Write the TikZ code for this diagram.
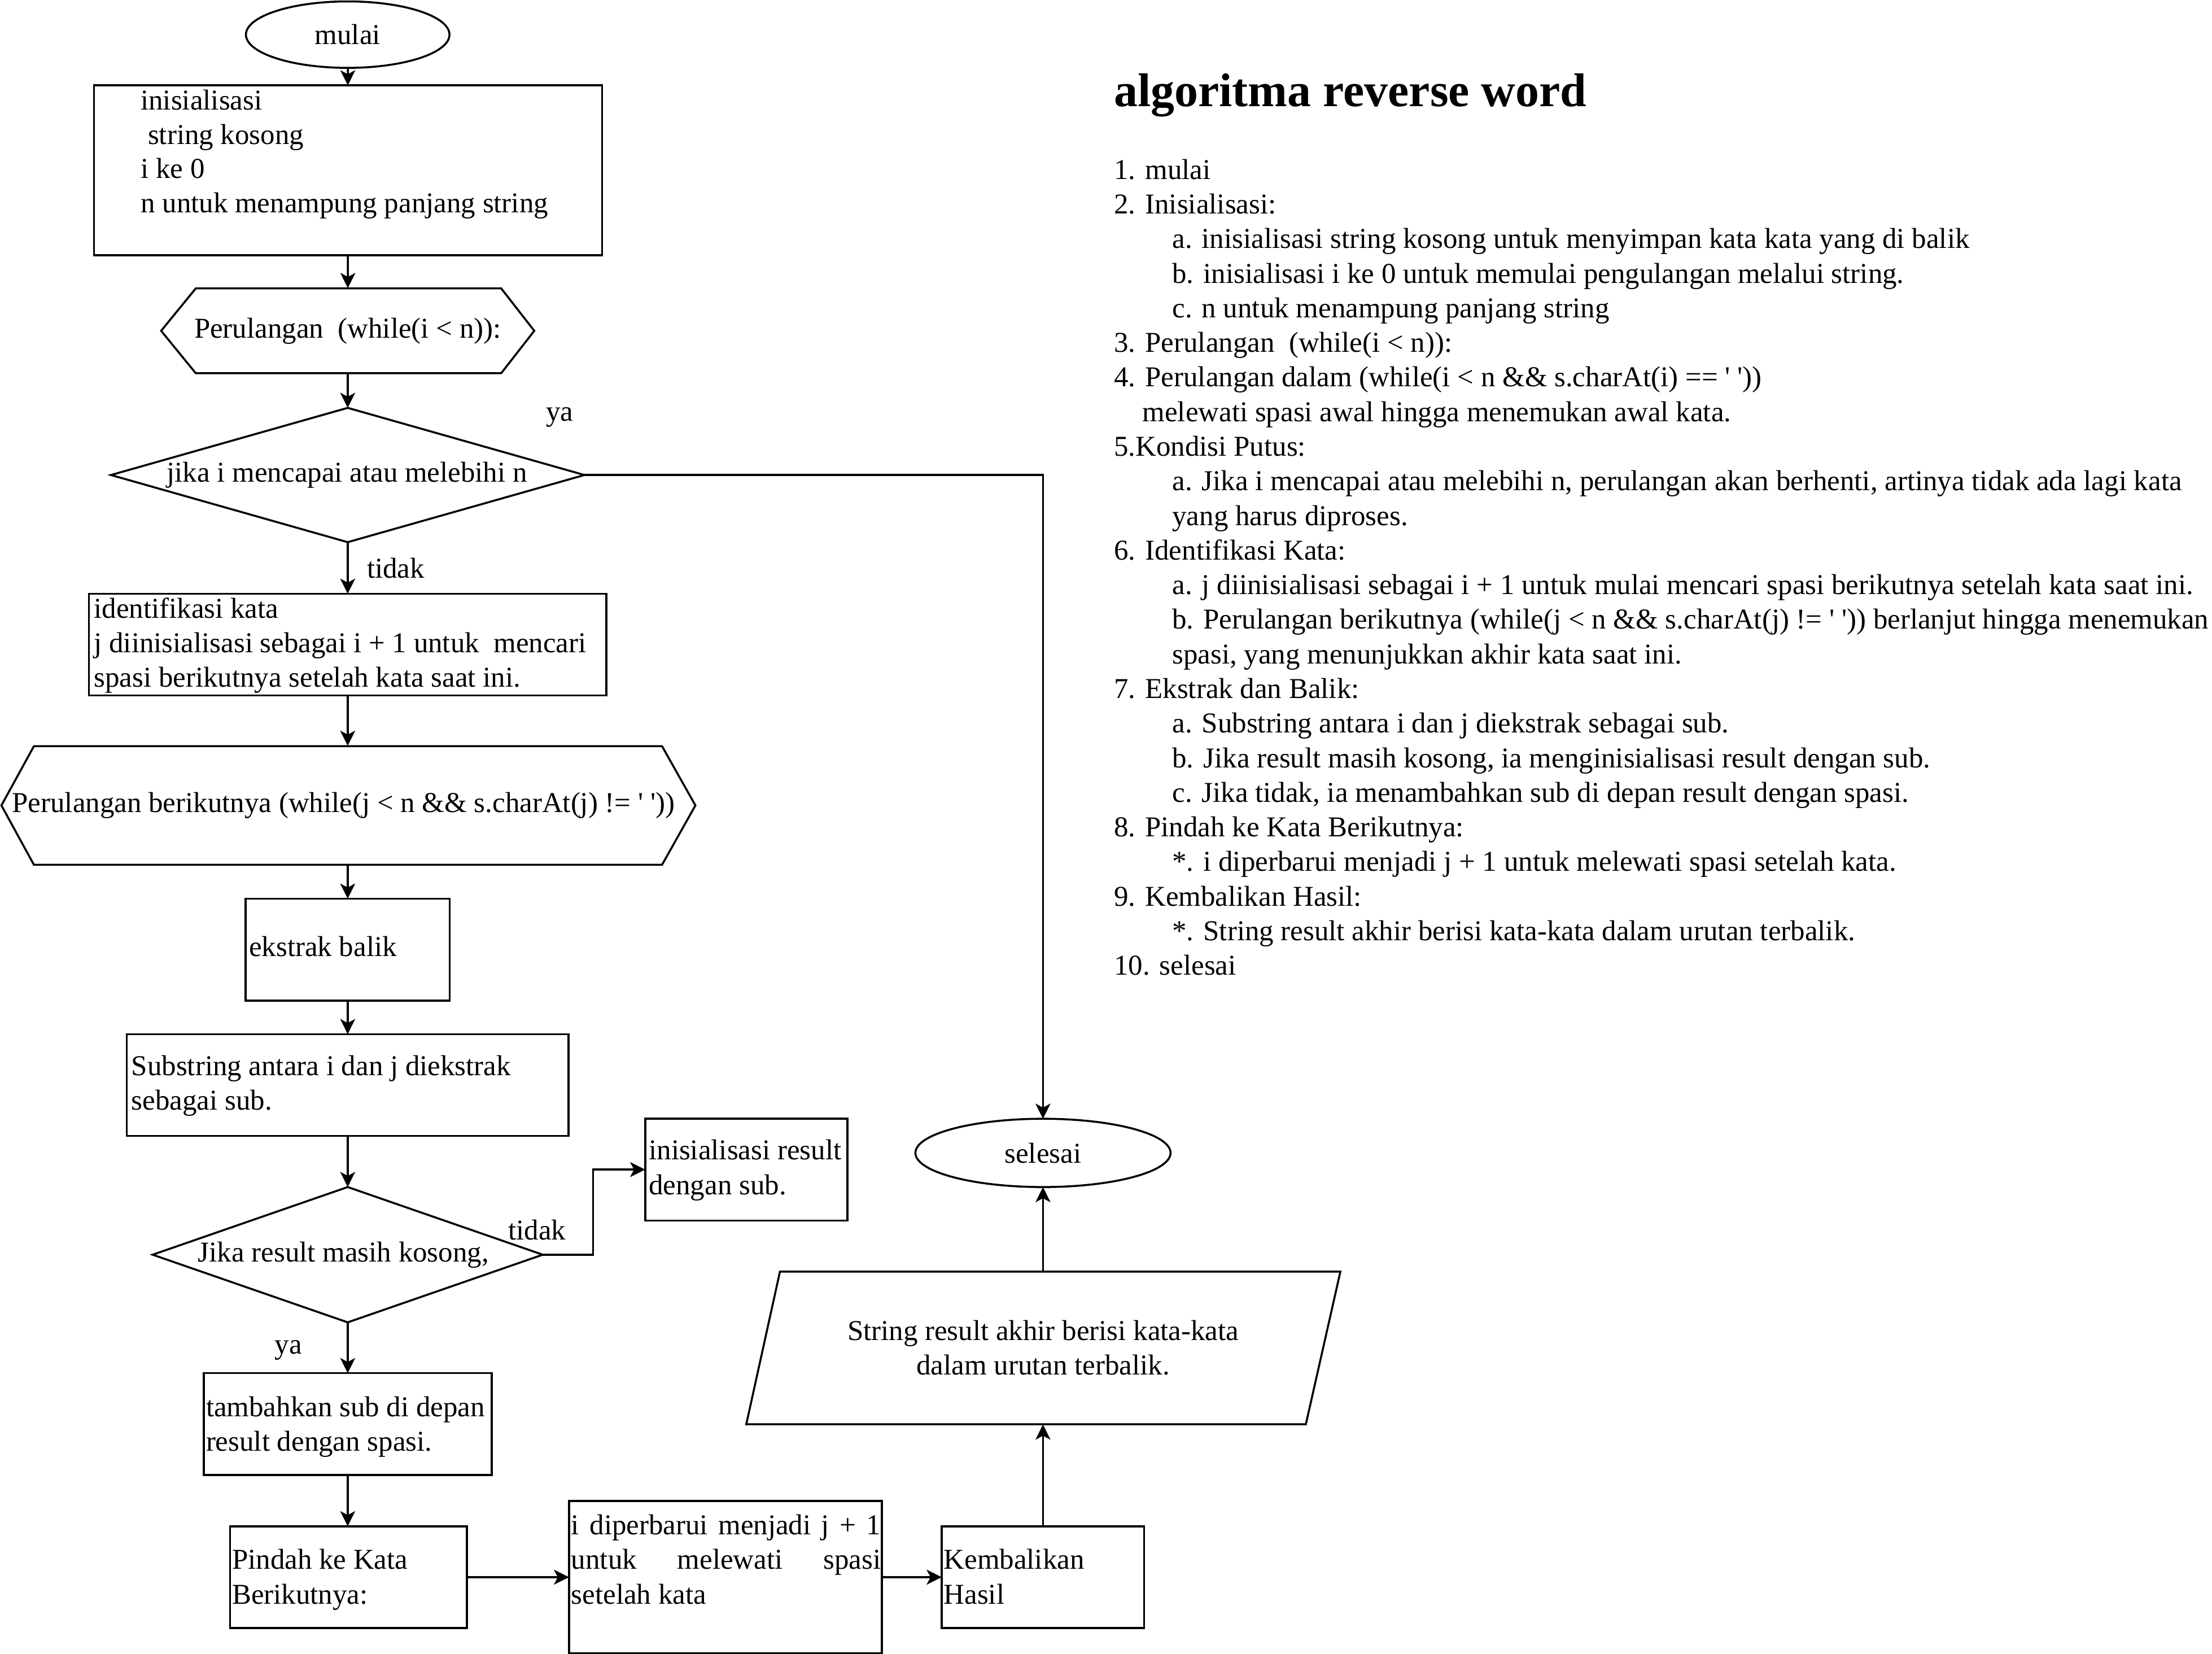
\documentclass[tikz,border=0pt]{standalone}
\usepackage{fontspec}
\setmainfont{Liberation Serif}
\usetikzlibrary{arrows.meta,shapes.geometric,calc}
\begin{document}
\begin{tikzpicture}[x=1pt,y=-1pt,
  every node/.style={font=\fontsize{20.35}{24.5}\selectfont},
  shp/.style={draw,line width=1.4pt,inner sep=0pt,outer sep=0pt},
  box/.style={shp,rectangle},
  flow/.style={line width=1.4pt,-{Stealth[length=10.7pt,width=10.5pt,inset=2.8pt]}},
  ln/.style={anchor=base west,inner sep=0pt},
  lbl/.style={inner sep=0pt}
]
\useasboundingbox (0,0) rectangle (1565,1169.6);

% ---- shapes ----
\node[shp,ellipse,minimum width=144pt,minimum height=47pt] (mulai) at (246,24.5) {mulai};
\node[box,minimum width=359.4pt,minimum height=120.1pt] (init) at (246.3,120.45) {};
\draw[line width=1.4pt] (114,234) -- (138.5,204) -- (354.6,204) -- (378,234) -- (354.6,264) -- (138.5,264) -- cycle;
\node[inner sep=0pt,minimum width=264pt,minimum height=60pt] (hex1) at (246,234) {Perulangan\ \ (while(i < n)):};
\node[shp,diamond,minimum width=335pt,minimum height=95pt,aspect=3.5] (d1) at (246,336) {};
\node[lbl] at (245.5,336) {jika i mencapai atau melebihi n};
\node[box,minimum width=366pt,minimum height=72pt] (ident) at (246,456) {};
\draw[line width=1.4pt] (1,569.7) -- (24,527.8) -- (468.4,527.8) -- (492,569.7) -- (468.4,611.7) -- (24,611.7) -- cycle;
\node[inner sep=0pt,minimum width=491pt,minimum height=83.9pt] (hex2) at (246,569.7) {};
\node[lbl] at (243,569.7) {Perulangan berikutnya (while(j < n \&\& s.charAt(j) != \textquotesingle\ \textquotesingle))};
\node[box,minimum width=144.4pt,minimum height=72.1pt] (ekstrak) at (246,671.75) {};
\node[box,minimum width=312.5pt,minimum height=72pt] (subs) at (246,767.5) {};
\node[shp,diamond,minimum width=276pt,minimum height=95.7pt,aspect=2.9] (d2) at (246,887.5) {};
\node[lbl] at (243,887.5) {Jika result masih kosong,};
\node[box,minimum width=143.1pt,minimum height=72pt] (initres) at (528.05,827.3) {};
\node[box,minimum width=203.7pt,minimum height=72pt] (tamb) at (246,1007.3) {};
\node[box,minimum width=167.6pt,minimum height=72pt] (pindah) at (246.6,1115.6) {};
\node[box,minimum width=221.4pt,minimum height=108pt] (diper) at (513.3,1115.6) {};
\node[box,minimum width=143.2pt,minimum height=72pt] (kemb) at (737.9,1115.6) {};
\draw[line width=1.4pt] (551.8,899.5) -- (948.3,899.5) -- (923.9,1007.4) -- (528,1007.4) -- cycle;
\node[inner sep=0pt,minimum width=396pt,minimum height=107.9pt] (para) at (738,953.45) {};
\node[shp,ellipse,minimum width=180.5pt,minimum height=48.3pt] (selesai) at (737.9,815.5) {selesai};

% ---- texts inside boxes ----
\node[ln] at (99.4,77.7) {inisialisasi};
\node[ln] at (99.4,102) {\ string kosong};
\node[ln] at (99.4,126.2) {i ke 0};
\node[ln] at (99.4,150.4) {n untuk menampung panjang string};

\node[ln] at (66.3,437.3) {identifikasi kata};
\node[ln] at (66.3,461.7) {j diinisialisasi sebagai i + 1 untuk\ \ mencari};
\node[ln] at (66.3,486.1) {spasi berikutnya setelah kata saat ini.};

\node[ln] at (176,676.5) {ekstrak balik};

\node[ln] at (92.8,760.6) {Substring antara i dan j diekstrak};
\node[ln] at (92.8,785) {sebagai sub.};

\node[ln] at (458.9,820.3) {inisialisasi result};
\node[ln] at (458.9,845) {dengan sub.};

\node[ln] at (145.6,1002) {tambahkan sub di depan};
\node[ln] at (145.6,1026.5) {result dengan spasi.};

\node[ln] at (164,1110) {Pindah ke Kata};
\node[ln] at (164,1134.5) {Berikutnya:};

\node[ln] at (404,1085.5) {\makebox[219pt][s]{i diperbarui menjadi j + 1}};
\node[ln] at (404,1110) {\makebox[219pt][s]{untuk melewati spasi}};
\node[ln] at (404,1134.5) {setelah kata};

\node[ln] at (667.5,1110) {Kembalikan};
\node[ln] at (667.5,1134.5) {Hasil};

\node[anchor=base,inner sep=0pt] at (738,948) {String result akhir berisi kata-kata};
\node[anchor=base,inner sep=0pt] at (738,972.5) {dalam urutan terbalik.};

% ---- labels ----
\node[lbl] at (396,295) {ya};
\node[lbl] at (280,402) {tidak};
\node[lbl] at (380,870) {tidak};
\node[lbl] at (204,955) {ya};

% ---- connectors ----
\draw[flow] (mulai) -- (init);
\draw[flow] (init) -- (hex1);
\draw[flow] (hex1) -- (d1);
\draw[flow] (d1.east) -| (selesai.north);
\draw[flow] (d1.south) -- (ident.north);
\draw[flow] (ident) -- (hex2);
\draw[flow] (hex2) -- (ekstrak);
\draw[flow] (ekstrak) -- (subs);
\draw[flow] (subs) -- (d2.north);
\draw[flow] (d2.east) -- ++(35.7,0) |- (initres.west);
\draw[flow] (d2.south) -- (tamb.north);
\draw[flow] (tamb.south) -- (tamb.south |- pindah.north);
\draw[flow] (pindah) -- (diper);
\draw[flow] (diper) -- (kemb);
\draw[flow] (kemb.north) -- (kemb.north |- para.south);
\draw[flow] (para.north -| selesai.south) -- (selesai.south);

% ---- right-hand text ----
\node[anchor=base west,inner sep=0pt,font=\fontsize{33.5}{40}\selectfont\bfseries] (title) at (788,75.1) {algoritma reverse word};
\def\lsp{24.48}
\node[ln] at (788,126.7) {1. mulai};
\node[ln] at (788,126.7+1*\lsp) {2. Inisialisasi:};
\node[ln] at (829.2,126.7+2*\lsp) {a. inisialisasi string kosong untuk menyimpan kata kata yang di balik};
\node[ln] at (829.2,126.7+3*\lsp) {b. inisialisasi i ke 0 untuk memulai pengulangan melalui string.};
\node[ln] at (829.2,126.7+4*\lsp) {c. n untuk menampung panjang string};
\node[ln] at (788,126.7+5*\lsp) {3. Perulangan\ \ (while(i < n)):};
\node[ln] at (788,126.7+6*\lsp) {4. Perulangan dalam (while(i < n \&\& s.charAt(i) == \textquotesingle\ \textquotesingle))};
\node[ln] at (808.1,126.7+7*\lsp) {melewati spasi awal hingga menemukan awal kata.};
\node[ln] at (788,126.7+8*\lsp) {5.Kondisi Putus:};
\node[ln] at (829.2,126.7+9*\lsp) {a. Jika i mencapai atau melebihi n, perulangan akan berhenti, artinya tidak ada lagi kata};
\node[ln] at (829.2,126.7+10*\lsp) {yang harus diproses.};
\node[ln] at (788,126.7+11*\lsp) {6. Identifikasi Kata:};
\node[ln] at (829.2,126.7+12*\lsp) {a. j diinisialisasi sebagai i + 1 untuk mulai mencari spasi berikutnya setelah kata saat ini.};
\node[ln] at (829.2,126.7+13*\lsp) {b. Perulangan berikutnya (while(j < n \&\& s.charAt(j) != \textquotesingle\ \textquotesingle)) berlanjut hingga menemukan};
\node[ln] at (829.2,126.7+14*\lsp) {spasi, yang menunjukkan akhir kata saat ini.};
\node[ln] at (788,126.7+15*\lsp) {7. Ekstrak dan Balik:};
\node[ln] at (829.2,126.7+16*\lsp) {a. Substring antara i dan j diekstrak sebagai sub.};
\node[ln] at (829.2,126.7+17*\lsp) {b. Jika result masih kosong, ia menginisialisasi result dengan sub.};
\node[ln] at (829.2,126.7+18*\lsp) {c. Jika tidak, ia menambahkan sub di depan result dengan spasi.};
\node[ln] at (788,126.7+19*\lsp) {8. Pindah ke Kata Berikutnya:};
\node[ln] at (829.2,126.7+20*\lsp) {*. i diperbarui menjadi j + 1 untuk melewati spasi setelah kata.};
\node[ln] at (788,126.7+21*\lsp) {9. Kembalikan Hasil:};
\node[ln] at (829.2,126.7+22*\lsp) {*. String result akhir berisi kata-kata dalam urutan terbalik.};
\node[ln] at (788,126.7+23*\lsp) {10. selesai};
\end{tikzpicture}
\end{document}
